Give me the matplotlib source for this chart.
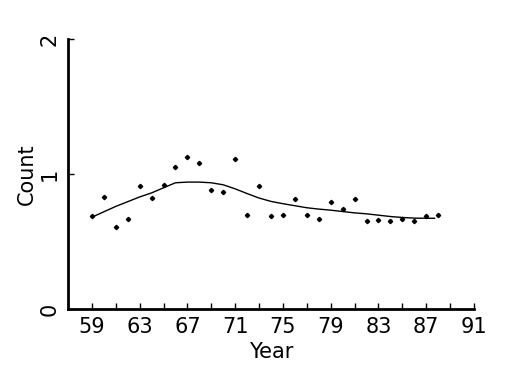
import matplotlib
matplotlib.use("Agg")
import matplotlib.pyplot as plt

# observed counts per year
years = [59, 60, 61, 62, 63, 64, 65, 66, 67, 68, 69, 70, 71, 72, 73,
         74, 75, 76, 77, 78, 79, 80, 81, 82, 83, 84, 85, 86, 87, 88]
counts = [0.69, 0.83, 0.61, 0.67, 0.91, 0.82, 0.92, 1.05, 1.125, 1.08,
          0.88, 0.87, 1.11, 0.70, 0.91, 0.69, 0.70, 0.815, 0.70, 0.67,
          0.79, 0.74, 0.815, 0.65, 0.66, 0.65, 0.67, 0.65, 0.69, 0.70]

# smoothed curve
smooth_years = [59, 60, 61, 62, 63, 64, 65, 66, 67, 68, 69, 70, 71, 72, 73,
                74, 75, 76, 77, 78, 79, 80, 81, 82, 83, 84, 85, 86, 87, 87.7]
smooth = [0.68, 0.72, 0.76, 0.795, 0.83, 0.86, 0.898, 0.935, 0.94, 0.94,
          0.935, 0.92, 0.89, 0.855, 0.822, 0.797, 0.78, 0.765, 0.75, 0.74,
          0.732, 0.722, 0.712, 0.705, 0.695, 0.685, 0.678, 0.673, 0.672, 0.672]

xticks = list(range(59, 92, 2))
xlabels = [str(v) if (v - 59) % 4 == 0 else "" for v in xticks]
yticks = [0, 1, 2]

fig = plt.figure(figsize=(5.25, 3.75), dpi=100)
ax = fig.add_axes([68 / 525, 1 - 309 / 375, 406 / 525, 270 / 375])

ax.plot(smooth_years, smooth, color="black", linewidth=1)
ax.plot(years, counts, linestyle="none", marker="D", markersize=2.2,
        color="black")

ax.set_xlim(57, 91)
ax.set_ylim(0, 2)
ax.set_xticks(xticks)
ax.set_xticklabels(xlabels)
ax.set_yticks(yticks)
ax.set_yticklabels([str(v) for v in yticks], rotation=90, va="center")

ax.spines["top"].set_visible(False)
ax.spines["right"].set_visible(False)
ax.spines["left"].set_linewidth(2)
ax.spines["bottom"].set_linewidth(2)
ax.tick_params(direction="in", length=4, width=1, labelsize=15, pad=6)

ax.set_xlabel("Year", fontsize=15, labelpad=3)
ax.set_ylabel("Count", fontsize=15, labelpad=2)

fig.savefig("out.png", dpi=100)
